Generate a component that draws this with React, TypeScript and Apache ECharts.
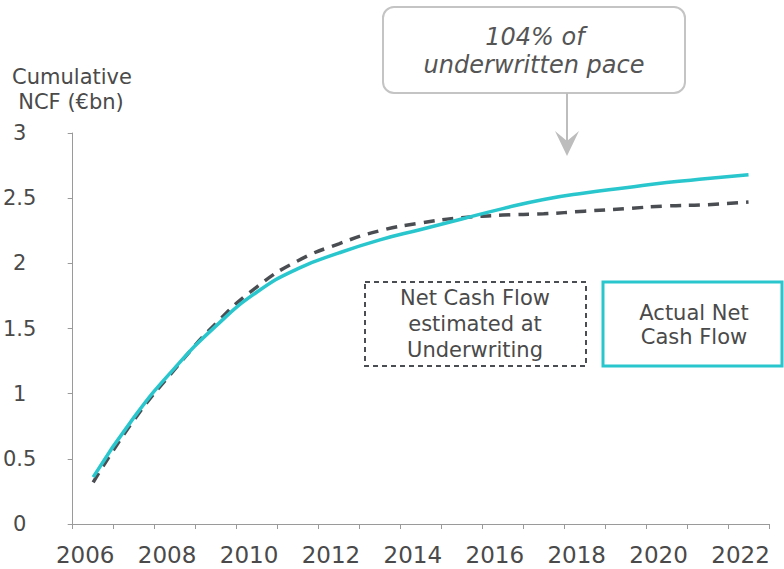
import React, { useEffect, useRef } from "react";
import * as echarts from "echarts";

const years = ["2006","2007","2008","2009","2010","2011","2012","2013","2014","2015","2016","2017","2018","2019","2020","2021","2022"];
const actualNCF = [0.36, 0.82, 1.2, 1.52, 1.78, 1.96, 2.08, 2.18, 2.26, 2.34, 2.42, 2.49, 2.54, 2.58, 2.62, 2.65, 2.68];
const underwritingNCF = [0.32, 0.8, 1.19, 1.54, 1.82, 2.02, 2.15, 2.25, 2.31, 2.35, 2.37, 2.38, 2.4, 2.42, 2.44, 2.45, 2.47];
const yTicks = [0, 0.5, 1, 1.5, 2, 2.5, 3];

const CYAN = "#29c6cd";
const DARK = "#4a4d52";
const TEXT = "#4a4a4a";
const FONT = "'DejaVu Sans', Verdana, sans-serif";

export default function App() {
  const ref = useRef<HTMLDivElement>(null);
  useEffect(() => {
    if (!ref.current) return;
    const chart = echarts.init(ref.current, undefined, { renderer: "svg" });
    const txt = (text: string, x: number, y: number, font: string, fill = TEXT) => ({
      type: "text",
      x,
      y,
      style: { text, fill, font, align: "center", verticalAlign: "middle" },
    });
    chart.setOption({
      animation: false,
      backgroundColor: "#ffffff",
      grid: { left: 66, right: 15, top: 133, bottom: 45, containLabel: false },
      xAxis: {
        type: "category",
        data: years,
        boundaryGap: true,
        axisLine: { lineStyle: { color: "#9a9a9a", width: 1 } },
        axisTick: { show: true, interval: 0, length: 5, lineStyle: { color: "#9a9a9a" } },
        axisLabel: {
          interval: 1,
          margin: 19,
          fontSize: 23,
          color: TEXT,
          fontFamily: "DejaVu Sans",
          padding: [0, 16, 0, 0],
        },
        splitLine: { show: false },
      },
      yAxis: {
        type: "value",
        min: yTicks[0],
        max: yTicks[yTicks.length - 1],
        interval: 0.5,
        axisLine: { show: true, lineStyle: { color: "#9a9a9a", width: 1 } },
        axisTick: { show: true, length: 5, lineStyle: { color: "#9a9a9a" } },
        axisLabel: { margin: 53, align: "center", fontSize: 21, color: TEXT, fontFamily: "DejaVu Sans" },
        splitLine: { show: false },
      },
      series: [
        {
          name: "Net Cash Flow estimated at Underwriting",
          type: "line",
          data: underwritingNCF,
          smooth: 0.5,
          symbol: "none",
          lineStyle: { color: DARK, width: 3.5, type: [11, 8] },
          z: 2,
        },
        {
          name: "Actual Net Cash Flow",
          type: "line",
          data: actualNCF,
          smooth: 0.5,
          symbol: "none",
          lineStyle: { color: CYAN, width: 3.5 },
          z: 3,
        },
      ],
      graphic: [
        txt("Cumulative", 72, 77, `21px ${FONT}`),
        txt("NCF (€bn)", 71, 102, `21px ${FONT}`),
        {
          type: "rect",
          shape: { x: 383, y: 7, width: 302, height: 86, r: 11 },
          style: { fill: "#ffffff", stroke: "#c4c4c4", lineWidth: 2 },
        },
        txt("104% of", 535, 37, `italic 24px ${FONT}`, "#555555"),
        txt("underwritten pace", 534, 65, `italic 24px ${FONT}`, "#555555"),
        {
          type: "line",
          shape: { x1: 567, y1: 93, x2: 567, y2: 148 },
          style: { stroke: "#bdbdbd", lineWidth: 2 },
        },
        {
          type: "polygon",
          shape: { points: [[555, 131], [567, 141], [579, 131], [567, 156]] },
          style: { fill: "#bdbdbd" },
        },
        {
          type: "rect",
          shape: { x: 365, y: 282, width: 221, height: 84 },
          style: { fill: "#ffffff", stroke: DARK, lineWidth: 2, lineDash: [5, 4] },
        },
        txt("Net Cash Flow", 475, 298, `21px ${FONT}`),
        txt("estimated at", 475, 324, `21px ${FONT}`),
        txt("Underwriting", 475, 350, `21px ${FONT}`),
        {
          type: "rect",
          shape: { x: 603, y: 282, width: 179, height: 84 },
          style: { fill: "#ffffff", stroke: CYAN, lineWidth: 3 },
        },
        txt("Actual Net", 694, 313, `21px ${FONT}`),
        txt("Cash Flow", 694, 337, `21px ${FONT}`),
      ],
    });
    return () => chart.dispose();
  }, []);
  return <div ref={ref} style={{ width: 784, height: 569, position: "absolute", left: 0, top: 0 }} />;
}
